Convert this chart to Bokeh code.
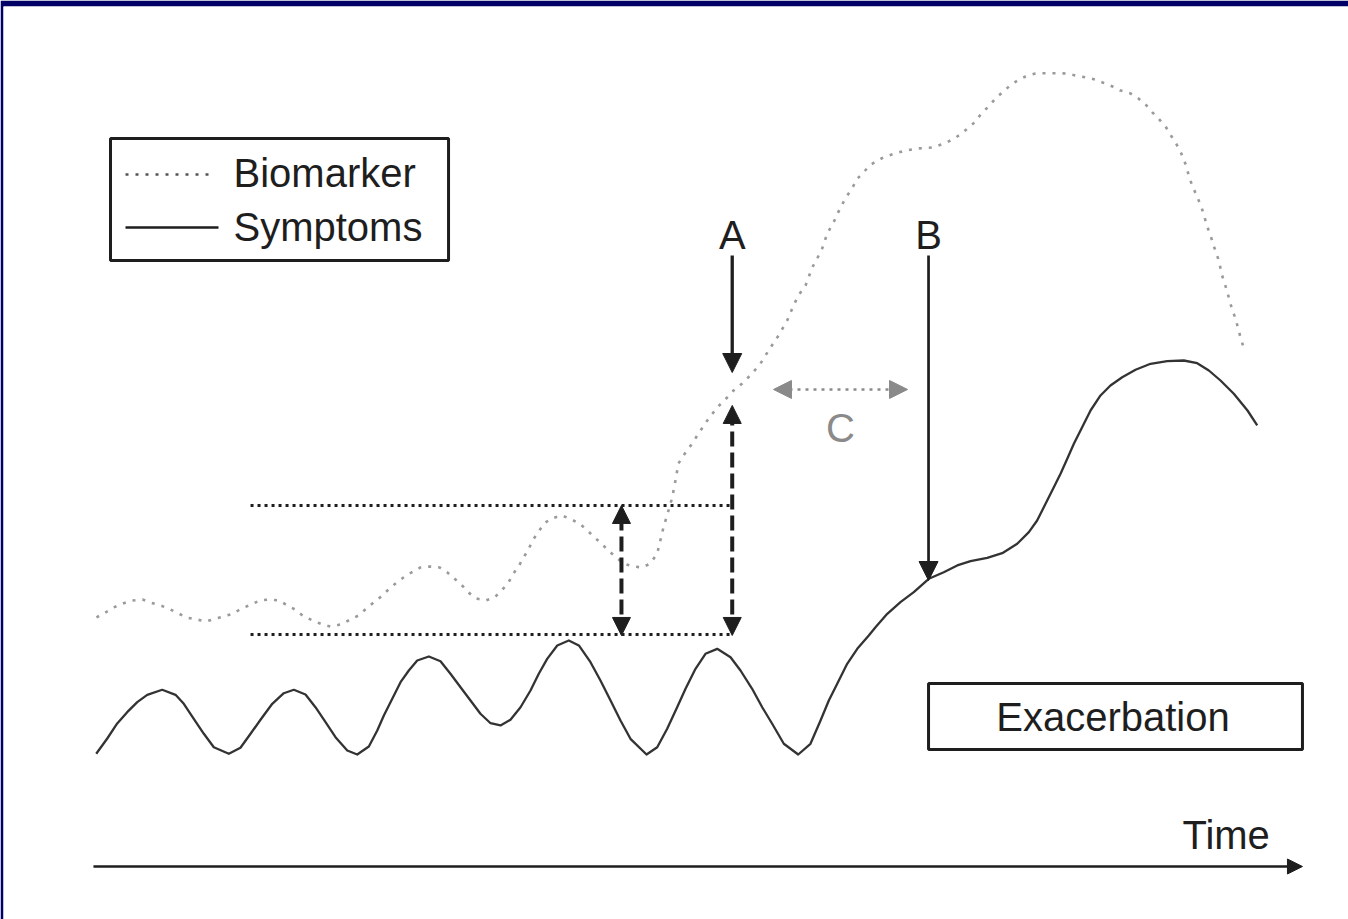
from bokeh.plotting import figure
from bokeh.models import Range1d, Arrow, NormalHead
from bokeh.core.properties import value
from bokeh.embed import file_html
from bokeh.resources import INLINE

# ---------------- data (time units / level units) ----------------
symptoms_time = [0.06, 0.98, 1.81, 2.64, 3.48, 4.31, 5.56, 6.67, 7.36, 8.19, 9.03, 9.86,
                 11.11, 12.08, 12.92, 13.75, 14.73, 15.69, 16.53, 17.5, 18.33, 19.17, 20.0,
                 20.98, 21.81, 22.78, 23.48, 24.03, 24.73, 25.42, 26.11, 26.81, 27.78, 28.75,
                 29.58, 30.42, 31.25, 32.08, 32.92, 33.75, 34.58, 35.42, 36.25, 36.94, 37.64,
                 38.48, 39.44, 40.28, 41.25, 42.08, 42.92, 43.75, 44.58, 45.92, 46.81, 47.64,
                 48.47, 49.17, 50.0, 50.83, 51.81, 52.92, 53.75, 54.72, 55.56, 56.39, 57.36,
                 58.56, 59.58, 60.42, 61.11, 61.81, 62.64, 63.48, 64.44, 65.0, 65.98, 67.08,
                 68.19, 69.44, 70.69, 71.81, 72.92, 74.31, 75.56, 76.81, 77.78, 78.47, 79.17,
                 79.86, 80.42, 80.98, 81.53, 82.22, 82.92, 83.75, 84.58, 85.56, 86.67, 87.92,
                 89.31, 90.69, 91.81, 92.78, 93.75, 94.86, 96.0, 96.81]
symptoms_level = [14.09, 16.0, 17.88, 19.29, 20.54, 21.46, 22.09, 21.46, 20.34, 18.46, 16.59, 14.91,
                  14.09, 14.84, 16.59, 18.34, 20.34, 21.66, 22.09, 21.5, 19.91, 18.04, 16.16,
                  14.5, 14.0, 15.0, 17.0, 18.88, 20.96, 23.04, 24.5, 25.75, 26.25, 25.66,
                  24.09, 22.41, 20.75, 19.09, 17.91, 17.63, 18.34, 19.91, 22.0, 24.09, 25.96,
                  27.63, 28.25, 27.63, 25.54, 23.25, 20.75, 18.25, 15.96, 14.0, 14.91, 17.21,
                  19.91, 22.21, 24.71, 26.59, 27.21, 26.16, 24.5, 22.21, 19.91, 17.84, 15.34,
                  14.0, 15.34, 18.25, 20.75, 22.84, 25.34, 27.21, 28.88, 29.91, 31.59, 33.04,
                  34.29, 35.96, 36.79, 37.63, 38.16, 38.59, 39.16, 40.34, 41.79, 43.25, 45.34,
                  47.41, 49.09, 50.96, 52.84, 54.91, 57.0, 58.88, 60.13, 61.16, 62.09, 62.84,
                  63.16, 63.25, 62.91, 62.0, 60.75, 59.09, 57.0, 55.13]

biomarker_time = [0.08, 0.83, 1.5, 2.29, 3.08, 3.92, 4.58, 5.42, 6.08, 6.92, 7.58, 8.42, 9.21,
                  10.04, 10.67, 11.5, 12.17, 13.0, 13.67, 14.5, 15.33, 15.97, 16.63, 17.25,
                  18.08, 18.92, 19.58, 20.42, 21.08, 21.92, 22.58, 23.08, 23.71, 24.33, 25.0,
                  25.67, 26.33, 27.08, 27.83, 28.67, 29.33, 30.0, 30.63, 31.08, 31.75, 32.5,
                  33.25, 33.92, 34.42, 34.83, 35.25, 35.67, 36.08, 36.42, 36.88, 37.38, 38.0,
                  38.83, 39.5, 40.33, 41.0, 41.58, 42.17, 42.71, 43.33, 43.97, 44.79, 45.56,
                  46.25, 46.81, 47.33, 47.75, 48.06, 48.33, 48.58, 49.17, 49.73, 50.25, 50.98,
                  51.81, 52.64, 53.17, 53.89, 54.72, 55.42, 56.25, 56.92, 57.64, 58.17, 58.58,
                  59.17, 59.73, 60.14, 60.56, 60.98, 61.5, 62.08, 62.54, 63.04, 63.5, 64.0,
                  64.5, 65.17, 65.83, 66.67, 67.5, 68.5, 69.79, 70.75, 71.42, 72.08, 72.67,
                  73.25, 73.83, 74.42, 75.0, 75.56, 76.22, 76.83, 77.5, 78.33, 79.17, 80.0,
                  80.83, 81.67, 82.47, 83.29, 84.08, 84.75, 85.42, 86.25, 86.92, 87.58, 88.08,
                  88.58, 89.22, 89.62, 90.05, 90.48, 90.88, 91.17, 91.5, 91.83, 92.17, 92.42,
                  92.67, 92.92, 93.17, 93.42, 93.67, 93.83, 94.08, 94.33, 94.5, 94.75, 95.0,
                  95.22, 95.42, 95.67]
biomarker_level = [31.13, 31.75, 32.38, 32.88, 33.25, 33.38, 33.0, 32.63, 32.25, 31.63, 31.13, 30.88, 30.63,
                   31.0, 31.25, 31.63, 32.25, 32.75, 33.25, 33.38, 33.25, 32.63, 32.13, 31.38,
                   30.75, 30.25, 30.0, 30.25, 30.75, 31.38, 32.25, 32.88, 33.63, 34.5, 35.38,
                   36.13, 36.75, 37.38, 37.5, 37.38, 36.75, 35.88, 35.0, 34.25, 33.5, 33.25,
                   33.63, 34.63, 35.5, 36.63, 37.5, 38.63, 39.63, 40.75, 41.75, 42.88, 43.5,
                   43.88, 43.5, 42.88, 42.0, 41.13, 40.38, 39.5, 38.75, 37.88, 37.5, 37.38,
                   37.88, 39.13, 42.38, 44.5, 46.13, 48.25, 50.38, 51.75, 52.88, 54.13, 55.75,
                   57.38, 58.63, 59.5, 60.38, 61.63, 62.88, 64.88, 66.38, 68.25, 70.13, 71.38,
                   72.63, 74.88, 76.0, 77.25, 79.13, 80.5, 82.38, 83.63, 84.75, 86.0, 86.75,
                   87.63, 88.25, 88.75, 89.13, 89.5, 89.75, 89.88, 90.38, 90.88, 91.5, 92.25,
                   93.0, 94.13, 95.0, 96.0, 96.75, 97.63, 98.25, 98.75, 99.13, 99.16, 99.16,
                   99.13, 98.88, 98.66, 98.38, 97.91, 97.5, 97.0, 96.63, 96.0, 95.13, 94.25,
                   93.5, 92.38, 91.38, 90.38, 89.13, 87.63, 86.0, 84.75, 83.63, 82.38, 81.13,
                   79.88, 78.88, 77.63, 76.63, 75.38, 74.13, 73.0, 71.75, 70.75, 69.5, 68.5,
                   67.25, 66.13, 64.88]

# threshold (dotted horizontal reference lines)
threshold_levels = [45.13, 29.0]
threshold_start = 12.92
threshold_end = 53.0

# annotation markers
time_A = 53.06
time_B = 69.42
time_window = 43.83
label_level = 79.0
arrow_top = 76.38
A_tip = 61.75
B_tip = 35.75
A_range = [28.88, 57.63]
window_range = [28.88, 45.13]
C_range = [56.5, 67.67]
C_level = 59.63
C_label = [62.08, 54.8]

# boxes: legend, exacerbation
box_left = [1.25, 69.42]
box_right = [29.42, 100.58]
box_top = [91.0, 22.88]
box_bottom = [75.75, 14.63]

legend_names = ["Biomarker", "Symptoms"]
legend_text_time = 11.5
legend_text_levels = [86.65, 80.0]
legend_line_levels = [86.5, 79.88]
legend_line_start = 2.5
legend_line_end = [10.0, 10.25]

exac_label = ["Exacerbation"]
exac_pos = [84.79, 18.65]
time_axis = [-0.17, 100.58]
time_label_pos = [90.58, 4.0]

INK = "#1e1e1e"
GREY = "#8a8a8a"
NAVY = "#000066"
FONT = value("Liberation Sans")

p = figure(width=1348, height=919,
           x_range=Range1d(-7.6667, 104.4167), y_range=Range1d(-6.625, 107.5),
           output_backend="svg", toolbar_location=None,
           x_axis_location=None, y_axis_location=None,
           min_border_left=3, min_border_top=6, min_border_right=0, min_border_bottom=0,
           outline_line_color=None,
           background_fill_color="white", border_fill_color=NAVY)
p.grid.visible = False

# curves
p.line(biomarker_time, biomarker_level, line_color="#9a9a9a", line_width=2.6, line_dash="3 7",
       line_join="round")
p.line(symptoms_time, symptoms_level, line_color="#333333", line_width=2.3, line_join="round")

# threshold dotted lines
p.segment(x0=[threshold_start] * 2, y0=threshold_levels, x1=[threshold_end] * 2, y1=threshold_levels,
          line_color=INK, line_width=3, line_dash=value("3 4"))

# boxes
p.quad(left=box_left, right=box_right, top=box_top, bottom=box_bottom,
       fill_color=None, line_color=INK, line_width=3)

# legend samples
p.segment(x0=[legend_line_start], y0=[legend_line_levels[0]], x1=[legend_line_end[0]], y1=[legend_line_levels[0]],
          line_color="#555555", line_width=2.5, line_dash=value("3 7"))
p.segment(x0=[legend_line_start], y0=[legend_line_levels[1]], x1=[legend_line_end[1]], y1=[legend_line_levels[1]],
          line_color=INK, line_width=2.5)

def head(color, size):
    return NormalHead(size=size, fill_color=color, line_color=color, line_width=1)

# A arrow (solid)
p.add_layout(Arrow(end=head(INK, 19), x_start=time_A, y_start=arrow_top, x_end=time_A, y_end=A_tip,
                   line_color=INK, line_width=3.3))
# B arrow (solid, thinner)
p.add_layout(Arrow(end=head(INK, 19), x_start=time_B, y_start=arrow_top, x_end=time_B, y_end=B_tip,
                   line_color=INK, line_width=2.7))
# dashed double arrows
p.add_layout(Arrow(start=head(INK, 18), end=head(INK, 18), x_start=time_A, y_start=A_range[0],
                   x_end=time_A, y_end=A_range[1], line_color=INK, line_width=4, line_dash="15 6"))
p.add_layout(Arrow(start=head(INK, 18), end=head(INK, 18), x_start=time_window, y_start=window_range[0],
                   x_end=time_window, y_end=window_range[1], line_color=INK, line_width=4, line_dash="15 6"))
# C arrow (grey dotted)
p.add_layout(Arrow(start=head(GREY, 18), end=head(GREY, 18), x_start=C_range[0], y_start=C_level,
                   x_end=C_range[1], y_end=C_level, line_color=GREY, line_width=2.6, line_dash="3 5"))
# time axis
p.add_layout(Arrow(end=head(INK, 15), x_start=time_axis[0], y_start=0, x_end=time_axis[1], y_end=0,
                   line_color=INK, line_width=2.6))

# texts
p.text(x=[legend_text_time] * 2, y=legend_text_levels, text=legend_names, text_font=FONT,
       text_font_size="40px", text_color=INK, text_align="left", text_baseline="alphabetic")
p.text(x=[time_A, time_B], y=[label_level] * 2, text=["A", "B"], text_font=FONT,
       text_font_size="40px", text_color=INK, text_align="center", text_baseline="alphabetic")
p.text(x=[C_label[0]], y=[C_label[1]], text=["C"], text_font=FONT,
       text_font_size="40px", text_color=GREY, text_align="center", text_baseline="alphabetic")
p.text(x=[exac_pos[0]], y=[exac_pos[1]], text=exac_label, text_font=FONT,
       text_font_size="40px", text_color=INK, text_align="center", text_baseline="alphabetic")
p.text(x=[time_label_pos[0]], y=[time_label_pos[1]], text=["Time"], text_font=FONT,
       text_font_size="40px", text_color=INK, text_align="left", text_baseline="alphabetic")

open("out.html", "w").write(file_html(p, INLINE))
